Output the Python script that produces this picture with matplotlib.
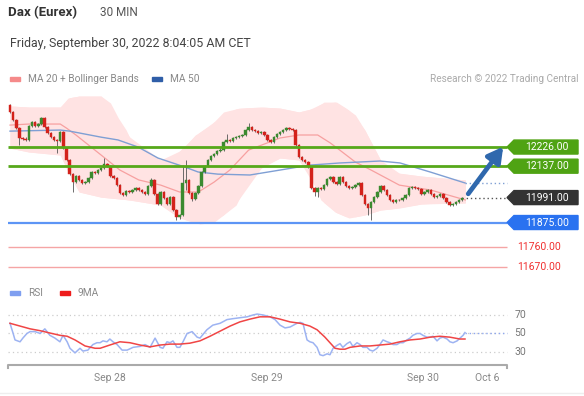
import matplotlib.pyplot as plt
from matplotlib.patches import Rectangle, Polygon
import numpy as np

plt.rcParams['font.family'] = ['Roboto', 'DejaVu Sans']

# candles (30 min), open of each bar = previous close
first_open = 12421
closes = [12389, 12352, 12314, 12268, 12265, 12259, 12324, 12342, 12324, 12333,
          12361, 12319, 12291, 12272, 12259, 12254, 12296, 12221, 12166, 12100,
          12063, 12091, 12073, 12059, 12063, 12082, 12110, 12105, 12119, 12128,
          12147, 12138, 12091, 12082, 12049, 12012, 12003, 12021, 12017, 12026,
          12035, 12026, 12017, 12007, 12045, 12073, 12007, 11961, 12017, 11989,
          11961, 11993, 11933, 11901, 11910, 12059, 12073, 12012, 11984, 12012,
          12045, 12110, 12138, 12166, 12184, 12193, 12207, 12212, 12249, 12259,
          12254, 12268, 12272, 12277, 12282, 12305, 12319, 12305, 12300, 12291,
          12296, 12282, 12259, 12249, 12272, 12286, 12296, 12305, 12314, 12310,
          12305, 12235, 12180, 12166, 12156, 12133, 12035, 12017, 12035, 12031,
          12049, 12077, 12086, 12063, 12054, 12086, 12063, 12045, 12035, 12040,
          12049, 12059, 12003, 11961, 11942, 11970, 11993, 12017, 12045, 12026,
          12003, 11980, 11970, 11980, 11978, 11989, 12003, 12035, 12040, 12035,
          12031, 12007, 12017, 12026, 12007, 11993, 11998, 12007, 11989, 11970,
          11956, 11961, 11970, 11980, 11991]
highs = [12428, 12394, 12356, 12318, 12275, 12272, 12330, 12348, 12346, 12338,
         12368, 12366, 12322, 12295, 12276, 12264, 12301, 12300, 12224, 12170,
         12104, 12096, 12095, 12078, 12068, 12086, 12114, 12116, 12124, 12133,
         12175, 12152, 12142, 12096, 12086, 12054, 12017, 12026, 12026, 12031,
         12040, 12040, 12031, 12021, 12050, 12080, 12077, 12012, 12022, 12021,
         11993, 11998, 11997, 11938, 11915, 12142, 12166, 12077, 12017, 12017,
         12050, 12115, 12143, 12171, 12189, 12198, 12212, 12220, 12254, 12286,
         12264, 12273, 12277, 12282, 12287, 12310, 12338, 12324, 12310, 12305,
         12301, 12300, 12286, 12263, 12277, 12291, 12300, 12310, 12319, 12319,
         12315, 12310, 12240, 12185, 12170, 12160, 12138, 12040, 12040, 12040,
         12054, 12082, 12091, 12091, 12068, 12091, 12091, 12068, 12050, 12045,
         12054, 12064, 12064, 12007, 11966, 11975, 11998, 12022, 12050, 12050,
         12031, 12007, 11984, 11985, 11985, 11994, 12008, 12040, 12045, 12045,
         12040, 12035, 12022, 12031, 12031, 12012, 12003, 12012, 12012, 11994,
         11975, 11966, 11975, 11985, 11996]
lows = [12384, 12347, 12308, 12235, 12258, 12252, 12255, 12318, 12319, 12319,
        12328, 12314, 12286, 12266, 12252, 12198, 12249, 12215, 12160, 12094,
        12017, 12058, 12068, 12054, 12054, 12058, 12078, 12100, 12100, 12114,
        12124, 12133, 12086, 12077, 12044, 12007, 11998, 11998, 12012, 12012,
        12021, 12021, 12012, 12002, 12003, 12040, 12002, 11955, 11956, 11984,
        11955, 11956, 11928, 11887, 11890, 11905, 12026, 12007, 11975, 11979,
        12007, 12040, 12105, 12133, 12161, 12179, 12188, 12202, 12207, 12244,
        12249, 12249, 12263, 12267, 12272, 12277, 12300, 12300, 12295, 12286,
        12286, 12277, 12254, 12244, 12244, 12268, 12281, 12291, 12300, 12305,
        12300, 12230, 12175, 12161, 12151, 12128, 12030, 11998, 11993, 12026,
        12026, 12044, 12072, 12058, 12049, 12049, 12058, 12040, 12030, 12030,
        12035, 12044, 11998, 11956, 11910, 11887, 11965, 11988, 12012, 12021,
        11998, 11975, 11965, 11965, 11973, 11973, 11984, 11998, 12030, 12030,
        12026, 12002, 12002, 12012, 12002, 11988, 11988, 11993, 11984, 11965,
        11951, 11951, 11956, 11965, 11975]

# Bollinger bands / MA20 / MA50 (bar index, price)
bb_up_x = [0, 6, 16, 18.5, 22, 29, 32, 34.5, 37, 40, 43, 48, 52, 56, 59, 64, 68, 73,
           80, 86, 92, 97, 100, 104, 107, 110, 113, 118, 121, 131, 145]
bb_up = [12417, 12412, 12412, 12454, 12463, 12463, 12431, 12361, 12305, 12212, 12175,
         12166, 12180, 12235, 12282, 12328, 12389, 12407, 12412, 12407, 12389, 12407,
         12435, 12435, 12407, 12375, 12305, 12166, 12110, 12091, 12073]
bb_lo_x = [0, 6, 16, 19, 22, 29, 38, 48, 54, 60.5, 65, 72, 76, 81, 86, 92, 95.5, 99,
           103.5, 108, 113, 118, 124, 131, 137, 145]
bb_lo = [12221, 12203, 12189, 12096, 12017, 11993, 11980, 11956, 11896, 11868, 11877,
         11956, 12073, 12142, 12175, 12166, 12096, 11980, 11924, 11896, 11910, 11933,
         11942, 11961, 11966, 11966]
ma20_x = [0, 6, 16, 18, 21, 29, 35, 41, 48, 54, 60, 65, 70, 76, 86, 92, 98, 102, 105,
          110, 115, 124, 134, 145]
ma20 = [12328, 12333, 12333, 12314, 12282, 12189, 12119, 12073, 12049, 12017, 12017,
        12063, 12119, 12212, 12268, 12282, 12282, 12245, 12212, 12156, 12119, 12049,
        12026, 11980]
ma50_x = [0, 16, 19, 29, 34.4, 40.8, 47.1, 55.7, 59.9, 66.2, 76.4, 86, 95.5, 105.1,
          117.8, 124.2, 133.8, 144.9]
ma50 = [12300, 12305, 12300, 12272, 12259, 12226, 12175, 12133, 12110, 12100, 12096,
        12119, 12142, 12152, 12161, 12152, 12110, 12059]

# RSI panel
rsi_x = [0, 1, 1.6, 3.2, 4.1, 5.4, 6.4, 8, 9.6, 11.1, 12.7, 14.3, 15.9, 16.9, 18.2,
         19.1, 20.7, 22.3, 23.2, 24.8, 26.4, 27.7, 28.7, 29.6, 30.9, 31.8, 32.8, 34.1,
         35.7, 37.3, 39.2, 41.4, 43, 44.6, 46.2, 47.8, 48.7, 50, 51, 51.9, 53.2, 54.1,
         55.1, 56.4, 58, 59.6, 60.5, 62.7, 64.6, 66.9, 69.1, 71, 73.2, 75.5, 77.4, 78.7,
         80.6, 82.8, 84.4, 86, 87.6, 89.2, 91.4, 92.4, 93.3, 94.6, 95.5, 96.5, 97.8,
         98.7, 99.7, 101, 101.9, 102.9, 104.1, 105.1, 106, 107.3, 108.3, 109.2, 110.5,
         111.5, 112.4, 113.7, 114.6, 115.6, 116.9, 117.8, 118.8, 120.1, 121, 122, 123.2,
         124.2, 125.2, 126.4, 127.4, 128.3, 129.6, 130.6, 131.5, 132.8, 133.8, 134.7,
         136, 136.9, 137.9, 139.2, 140.1, 141.1, 142.4, 143.3, 144.3, 144.9]
rsi = [61, 50, 43, 41, 45, 50, 52, 52, 50, 55, 48, 45, 41, 48, 41, 34, 29, 34, 31, 32,
       38, 40, 40, 42, 41, 44, 41, 38, 32, 32, 35, 36, 38, 35, 45, 35, 34, 41, 40, 42,
       35, 35, 41, 50, 52, 46, 45, 54, 59, 61, 65, 66, 67, 68, 70, 71, 70, 68, 65, 59,
       56, 57, 61, 62, 61, 43, 41, 40, 35, 27, 26, 28, 27, 34, 37, 39, 35, 39, 41, 36,
       40, 38, 35, 35, 32, 31, 34, 38, 43, 41, 40, 38, 38, 40, 40, 43, 45, 48, 50, 50,
       48, 46, 46, 47, 42, 45, 46, 44, 41, 40, 42, 45, 48, 51]
ma9_x = [0, 3.2, 6.4, 9.6, 12.7, 15.9, 18.2, 20.7, 23.9, 27.1, 28.7, 31.8, 35, 38.2,
         41.4, 44.6, 47.8, 51, 54.1, 57.3, 60.5, 63.7, 66.9, 70.1, 73.2, 76.4, 79.6,
         82.8, 86, 89.2, 92.4, 95.5, 97.8, 100.3, 101.9, 103.5, 105.1, 106.7, 108.3,
         111.5, 114.6, 117.8, 121, 124.2, 127.4, 130.6, 133.8, 136.9, 140.1, 143.3, 144.9]
ma9 = [61, 58, 55, 53, 50.5, 48, 47, 43, 36.5, 34, 34, 37.5, 41, 40, 37.5, 35.5, 37.5,
       38.5, 38.5, 39.5, 42, 47, 52.5, 58, 62.5, 65.5, 68, 68, 65.5, 62.5, 61, 58, 54,
       46, 40, 34, 33, 33, 35, 36.5, 36.5, 37.5, 38.5, 41, 43, 44, 46, 47, 46, 44, 44]

levels_green = [12226, 12137]
level_blue = 11875
levels_red = [11760, 11670]
last_price = 11991
rsi_levels = [70, 50, 30]
day_ticks = [31.8, 81.8, 131.5, 151.9]
day_labels = ['Sep 28', 'Sep 29', 'Sep 30', 'Oct 6']

W, H = 584, 396
fig = plt.figure(figsize=(W / 100, H / 100), dpi=100)
x0, x1 = -10 / 3.14, (W - 10) / 3.14
xl, xr = -0.6, 158.3  # left / right end of the drawn area

ax = fig.add_axes([0, (H - 275) / H, 1, 180 / H])
ax.set_xlim(x0, x1)
ax.set_ylim(11631, 12468)
ax.axis('off')

ax.fill_between(bb_up_x, bb_up, np.interp(bb_up_x, bb_lo_x, bb_lo), color='#ffe3e3', lw=0)
ax.fill_between(bb_lo_x, np.interp(bb_lo_x, bb_up_x, bb_up), bb_lo, color='#ffe3e3', lw=0)
ax.plot(ma20_x, ma20, color='#f7a0a0', lw=0.9)
ax.plot(ma50_x, ma50, color='#7f9fd4', lw=1.0)

opens = [first_open] + closes[:-1]
idx = np.arange(len(closes))
ax.vlines(idx, lows, highs, color='#555555', lw=0.6, zorder=3)
for i in idx:
    o, c = opens[i], closes[i]
    col = '#3b8a2f' if c >= o else '#d3221b'
    h = max(abs(c - o), 3)
    ax.bar(i, h, bottom=min(o, c), width=0.8, color=col, edgecolor=col, lw=0.3, zorder=4)

ax.hlines(levels_green, xl, xr, color='#56a81a', lw=2, zorder=5)
ax.hlines(level_blue, xl, xr, color='#5d95f5', lw=1.6, zorder=5)
ax.hlines(levels_red, xl, xr, color='#f5a5a5', lw=1, zorder=5)
ax.hlines(ma50[-1], ma50_x[-1], xr, color='#7f9fd4', lw=1, linestyles=(0, (1, 2)))
ax.hlines(last_price, len(closes) - 1, xr, color='#555555', lw=1, linestyles=(0, (1, 2)))

ax.annotate('', xy=(157.6, 12238), xytext=(145.4, 11998),
            arrowprops=dict(arrowstyle='-|>,head_width=0.5,head_length=0.9',
                            color='#2f68ad', lw=3.4), zorder=6)

pu = 4.65
def tag(price, color):
    pts = [(xr, price), (160.5, price + 7 * pu), (180.9, price + 7 * pu),
           (180.9, price - 7 * pu), (160.5, price - 7 * pu)]
    ax.add_patch(Polygon(pts, closed=True, color=color, zorder=6, clip_on=False))
    ax.text(170.9, price, f'{price:.2f}', color='white', fontsize=7.5,
            ha='center', va='center', zorder=7)

for lv in levels_green:
    tag(lv, '#4fa313')
tag(last_price, '#333333')
tag(level_blue, '#2a72f0')
for lv in levels_red:
    ax.text(168.4, lv, f'{lv:.2f}', color='#f03030', fontsize=7.5, ha='center', va='center')

# RSI panel
rax = fig.add_axes([0, 26 / H, 1, 80 / H])
rax.set_xlim(x0, x1)
rax.set_ylim(10.5, 97)
rax.axis('off')
rax.hlines(rsi_levels, xl, xr, color='#cccccc', lw=0.9, linestyles=(0, (1, 2.5)))
rax.hlines(50, rsi_x[-1], xr, color='#8fa8f0', lw=1, linestyles=(0, (1, 2)))
rax.plot(rsi_x, rsi, color='#9db3f2', lw=1.1)
rax.plot(ma9_x, ma9, color='#f04545', lw=1.1)
rax.plot([xl, xl, xr, xr], [12.8, 16, 16, 12.8], color='#aaaaaa', lw=1.5)
for lv in rsi_levels:
    rax.text(160.6, lv, str(lv), color='#777777', fontsize=7.5, ha='left', va='center')

for t, lab in zip(day_ticks, day_labels):
    fig.text((10 + t * 3.14) / W, 1 - 378 / H, lab, color='#888888', fontsize=7.5,
             ha='center', va='center')

# header and legends
fig.text(8 / W, 1 - 13 / H, 'Dax (Eurex)', fontsize=9.5, fontweight='bold',
         color='#333333', va='center')
fig.text(100 / W, 1 - 13 / H, '30 MIN', fontsize=8.5, color='#555555', va='center')
fig.text(10 / W, 1 - 43 / H, 'Friday, September 30, 2022 8:04:05 AM CET', fontsize=8.9,
         color='#444444', va='center')

def legend_item(px, py, color, label):
    fig.patches.append(Rectangle((px / W, 1 - (py + 2) / H), 10 / W, 4 / H,
                                 color=color, transform=fig.transFigure))
    fig.text((px + 18) / W, 1 - py / H, label, fontsize=7.3, color='#888888', va='center')

legend_item(10, 79, '#f58a8a', 'MA 20 + Bollinger Bands')
legend_item(152, 79, '#2f5ea8', 'MA 50')
legend_item(10, 293, '#7f9ff0', 'RSI')
legend_item(60, 293, '#ee1c1c', '9MA')
fig.text(578 / W, 1 - 79 / H, 'Research \u00a9 2022 Trading Central', fontsize=7.2,
         color='#aaaaaa', ha='right', va='center')
fig.add_artist(plt.Line2D([0, 1], [1 - 393 / H] * 2, color='#eeeeee', lw=1))

fig.savefig('out.png', dpi=100)
